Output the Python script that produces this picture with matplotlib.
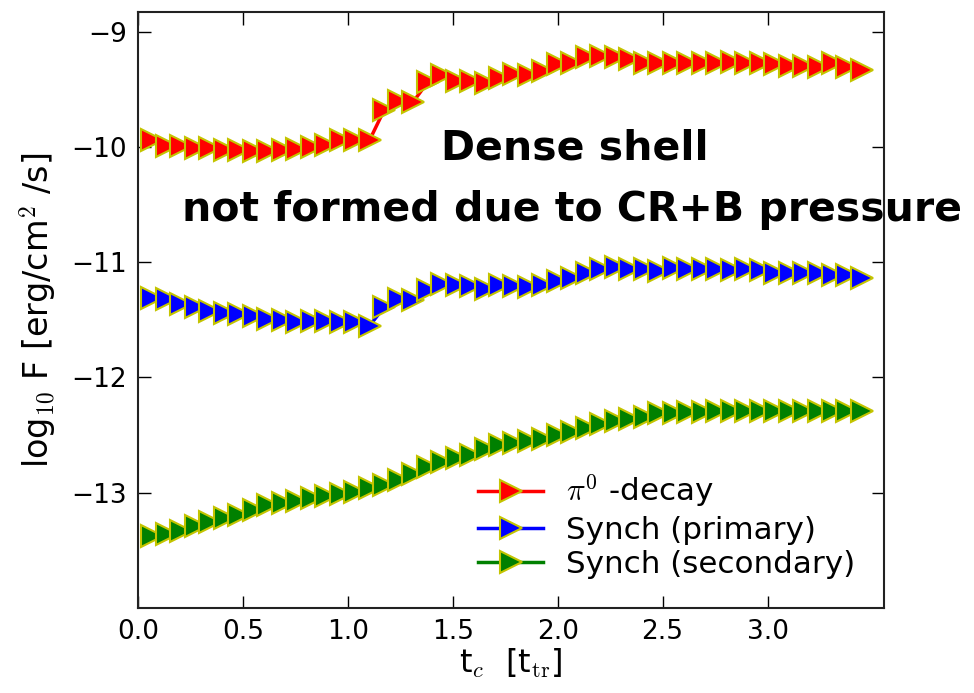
import matplotlib
matplotlib.use("Agg")
import matplotlib.pyplot as plt

plt.rcParams['font.family'] = ['DejaVu Sans']
plt.rcParams['mathtext.fontset'] = 'cm'

# time grid (t_c in units of t_tr)
t = [0.069, 0.138, 0.207, 0.276, 0.345, 0.414, 0.483, 0.552, 0.621, 0.690,
     0.759, 0.828, 0.897, 0.966, 1.035, 1.104, 1.173, 1.242, 1.311, 1.380,
     1.449, 1.518, 1.587, 1.656, 1.725, 1.794, 1.863, 1.932, 2.001, 2.070,
     2.139, 2.208, 2.277, 2.346, 2.415, 2.484, 2.553, 2.622, 2.691, 2.760,
     2.829, 2.898, 2.967, 3.036, 3.105, 3.174, 3.243, 3.312, 3.381, 3.450]

pi0_decay = [-9.94, -9.99, -9.99, -10.01, -10.01, -10.03, -10.03, -10.04, -10.04, -10.03,
             -10.02, -10.00, -9.98, -9.94, -9.94, -9.94, -9.68, -9.60, -9.61, -9.44,
             -9.38, -9.43, -9.43, -9.45, -9.40, -9.37, -9.38, -9.34, -9.28, -9.27,
             -9.22, -9.21, -9.22, -9.24, -9.27, -9.27, -9.27, -9.27, -9.27, -9.27,
             -9.26, -9.27, -9.27, -9.28, -9.30, -9.30, -9.31, -9.27, -9.31, -9.33]

synch_primary = [-11.31, -11.32, -11.36, -11.39, -11.42, -11.44, -11.45, -11.47, -11.49, -11.50,
                 -11.52, -11.51, -11.51, -11.52, -11.52, -11.55, -11.39, -11.32, -11.33, -11.24,
                 -11.19, -11.20, -11.21, -11.23, -11.20, -11.21, -11.22, -11.20, -11.16, -11.14,
                 -11.09, -11.06, -11.04, -11.06, -11.06, -11.08, -11.05, -11.06, -11.06, -11.06,
                 -11.07, -11.06, -11.07, -11.09, -11.09, -11.09, -11.09, -11.11, -11.11, -11.14]

synch_secondary = [-13.38, -13.36, -13.33, -13.29, -13.25, -13.22, -13.19, -13.15, -13.11, -13.09,
                   -13.07, -13.05, -13.03, -13.01, -12.99, -12.96, -12.93, -12.89, -12.84, -12.78,
                   -12.73, -12.70, -12.67, -12.62, -12.59, -12.57, -12.55, -12.53, -12.50, -12.47,
                   -12.44, -12.40, -12.38, -12.36, -12.34, -12.31, -12.31, -12.30, -12.30, -12.29,
                   -12.29, -12.29, -12.29, -12.29, -12.29, -12.29, -12.29, -12.29, -12.29, -12.29]

labels = [r'$\pi^0$ -decay', 'Synch (primary)', 'Synch (secondary)']
colors = ['red', 'blue', 'green']
series = [pi0_decay, synch_primary, synch_secondary]

fig = plt.figure(figsize=(9.74, 6.93), dpi=100)
ax = fig.add_axes([0.1417, 0.1227, 0.7659, 0.8600])

for ys, c, lab in zip(series, colors, labels):
    ax.plot(t, ys, '-', color=c, lw=2.5, marker='>', markersize=16,
            markerfacecolor=c, markeredgecolor='#c4c400', markeredgewidth=1.5,
            label=lab)

ax.set_xlim(0, 3.555)
ax.set_ylim(-14, -8.83)
ax.set_xticks([0.0, 0.5, 1.0, 1.5, 2.0, 2.5, 3.0])
ax.set_yticks([-13, -12, -11, -10, -9])
ax.tick_params(direction='in', length=9, width=1, labelsize=19,
               top=True, right=True, pad=8)
for s in ax.spines.values():
    s.set_linewidth(1.5)
    s.set_color('#222222')

ax.set_xlabel(r'$\mathregular{t}_c$  [$\mathregular{t}_{\rm tr}$]', fontsize=23, labelpad=1)
ax.set_ylabel(r'log$_{10}$ F [erg/cm$^2$ /s]', fontsize=24, labelpad=8)

ax.legend(loc='center left', bbox_to_anchor=(0.456, 0.1376), frameon=False,
          fontsize=22.3, numpoints=1, handlelength=2.1, handletextpad=0.75,
          labelspacing=0.18, borderpad=0, borderaxespad=0)

fig.text(575 / 974, 1 - 148 / 693, 'Dense shell', ha='center', va='center',
         fontsize=29.5, fontweight='bold', family=['DejaVu Sans'])
fig.text(572 / 974, 1 - 210 / 693, 'not formed due to CR+B pressure', ha='center',
         va='center', fontsize=29.5, fontweight='bold', family=['DejaVu Sans'])

fig.savefig('out.png', dpi=100)
